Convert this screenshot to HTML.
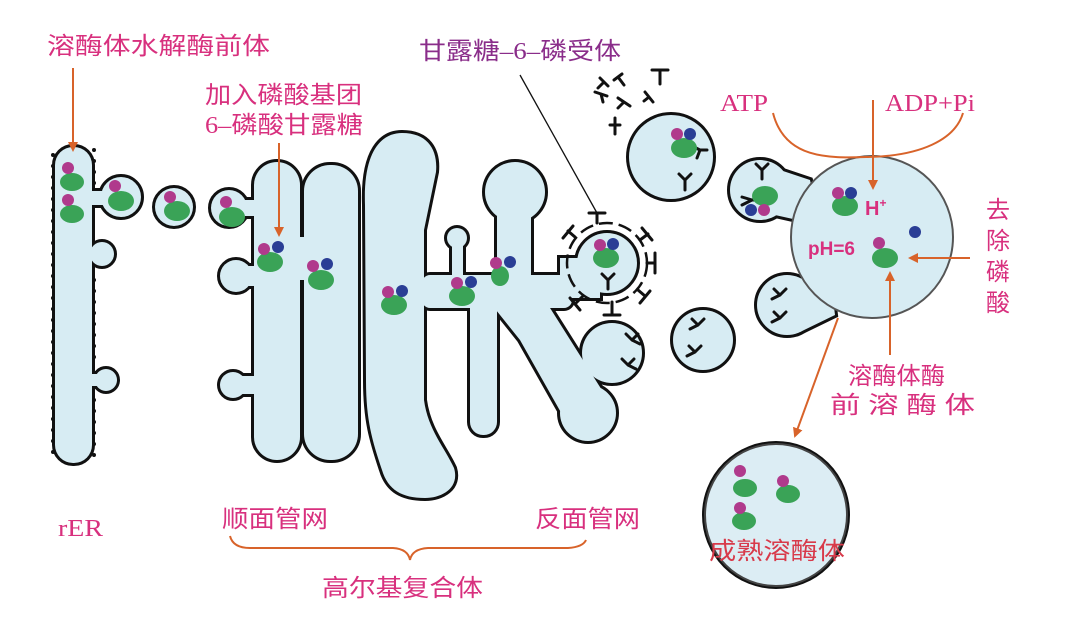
<!DOCTYPE html>
<html><head><meta charset="utf-8"><style>
html,body{margin:0;padding:0;background:#fff}
svg{display:block}
text{font-family:"Liberation Serif","Noto Sans CJK SC",serif}
.p{fill:#d8307e;font-size:24px}
</style></head><body>
<svg width="1077" height="617" viewBox="0 0 1077 617" xmlns="http://www.w3.org/2000/svg">
<defs>
<marker id="ah" markerWidth="10" markerHeight="10" refX="8" refY="5" orient="auto" markerUnits="userSpaceOnUse"><path d="M0,0 L10,5 L0,10 Z" fill="#d8632a"/></marker>
<g id="shapes">
  <rect x="55" y="147" width="37" height="316" rx="18"/>
  <circle cx="102" cy="254" r="12"/><rect x="88" y="248" width="14" height="12"/>
  <circle cx="106" cy="380" r="11"/><rect x="88" y="374" width="16" height="12"/>
  <rect x="88" y="191" width="22" height="14"/><circle cx="121" cy="197" r="20"/>
  <circle cx="174" cy="207" r="19"/>
  <circle cx="229" cy="208" r="18"/><rect x="229" y="200" width="32" height="16"/>
  <rect x="254" y="162" width="46" height="298" rx="23"/>
  <rect x="304" y="165" width="54" height="295" rx="26"/>
  <rect x="260" y="237" width="90" height="43"/>
  <circle cx="236" cy="276" r="16"/><rect x="236" y="266" width="22" height="20"/>
  <circle cx="233" cy="385" r="13"/><rect x="233" y="376" width="25" height="18"/>
  <path d="M365,205 C363,150 382,133 402,133 C428,133 438,150 436,172 L424,230 L424,400 C428,430 445,448 454,468 C460,488 442,498 425,498 C402,498 388,490 382,470 C372,440 366,420 366,380 Z"/>
  <rect x="422" y="275" width="150" height="33" rx="8"/>
  <circle cx="515" cy="192" r="30"/><rect x="497" y="192" width="34" height="95"/>
  <circle cx="457" cy="238" r="10"/><rect x="452" y="238" width="11" height="45"/>
  <circle cx="607" cy="263" r="30"/><rect x="560" y="258" width="40" height="40"/>
  <rect x="470" y="295" width="27" height="140" rx="13"/>
  <polygon points="488,300 545,300 605,395 572,432 520,340"/>
  <circle cx="612" cy="353" r="30"/>
  <circle cx="588" cy="413" r="28"/>
  <circle cx="671" cy="157" r="42"/>
  <circle cx="703" cy="340" r="30"/>
  <circle cx="760" cy="190" r="30"/><polygon points="765,165 810,180 820,225 775,215"/>
  <circle cx="787" cy="305" r="30"/><polygon points="792,280 830,275 835,315 800,332"/>
  <circle cx="776" cy="515" r="71"/>
</g>
</defs>
<g stroke="#111" stroke-width="6" fill="#111"><use href="#shapes"/></g>
<g fill="#d7ecf3"><use href="#shapes"/></g>
<circle cx="872" cy="237" r="81" fill="#d7ecf3" stroke="#555" stroke-width="2"/>
<circle cx="776" cy="515" r="71" fill="#dcedf4" stroke="#444" stroke-width="2"/>
<line x1="53" y1="155" x2="53" y2="460" stroke="#111" stroke-width="4" stroke-dasharray="0 11" stroke-linecap="round"/>
<line x1="94" y1="280" x2="94" y2="365" stroke="#111" stroke-width="4" stroke-dasharray="0 11" stroke-linecap="round"/>
<line x1="94" y1="400" x2="94" y2="460" stroke="#111" stroke-width="4" stroke-dasharray="0 11" stroke-linecap="round"/>
<line x1="94" y1="150" x2="94" y2="185" stroke="#111" stroke-width="4" stroke-dasharray="0 11" stroke-linecap="round"/>
<circle cx="607" cy="263" r="40" fill="none" stroke="#111" stroke-width="2.5" stroke-dasharray="14 6"/>
<g stroke="#111" stroke-width="3" fill="none" stroke-linecap="round">
<path d="M597,223 v-10 M589,213 h16"/>
<path d="M575,237 l-7,-6 M563,238 l10,-12"/>
<path d="M640,240 l8,-6 M642,228 l10,12"/>
<path d="M647,263 h8 M655,253 v20"/>
<path d="M638,290 l7,6 M640,303 l10,-12"/>
<path d="M612,302 v12 M604,315 h16"/>
<path d="M583,296 l-7,7 M570,298 l10,12"/>
<path d="M608,280 l-6,-6 M608,280 l6,-6 M608,280 v9"/>
<path d="M632,340 l-6,-6 M632,340 l6,-6 M632,340 l8,4"/>
<path d="M628,365 l-6,-6 M628,365 l6,-6 M628,365 l8,4"/>
<path d="M700,150 l-8,-4 M700,150 l-3,8 M700,150 h7"/>
<path d="M685,180 l-6,-6 M685,180 l6,-6 M685,180 v10"/>
<path d="M698,325 l-6,-6 M698,325 l6,-6 M698,325 l-8,4"/>
<path d="M695,352 l-6,-6 M695,352 l6,-6 M695,352 l-8,4"/>
<path d="M762,170 l-6,-6 M762,170 l6,-6 M762,170 v9"/>
<path d="M752,200 l-10,-3 M752,200 l-10,5 M752,200 h8"/>
<path d="M780,295 l-6,-6 M780,295 l6,-6 M780,295 l-8,4"/>
<path d="M780,318 l-6,-6 M780,318 l6,-6 M780,318 l-8,4"/>
<path d="M600,78 l8,8 M604,82 l-6,6"/>
<path d="M622,74 l-8,6 M618,77 l6,8"/>
<path d="M652,70 h16 M660,70 v14"/>
<path d="M595,92 l12,4 M601,94 l2,8"/>
<path d="M618,98 l12,8 M624,102 l-6,6"/>
<path d="M645,92 l8,10 M649,97 l-5,4"/>
<path d="M610,125 h10 M615,118 v16"/>
</g>
<g fill="#3aa357">
<ellipse cx="72" cy="182" rx="12" ry="9"/><ellipse cx="72" cy="214" rx="12" ry="9"/>
<ellipse cx="121" cy="201" rx="13" ry="10"/><ellipse cx="177" cy="211" rx="13" ry="10"/>
<ellipse cx="232" cy="217" rx="13" ry="10"/><ellipse cx="270" cy="262" rx="13" ry="10"/>
<ellipse cx="321" cy="280" rx="13" ry="10"/><ellipse cx="394" cy="305" rx="13" ry="10"/>
<ellipse cx="462" cy="296" rx="13" ry="10"/><ellipse cx="500" cy="276" rx="9" ry="10"/>
<ellipse cx="606" cy="258" rx="13" ry="10"/><ellipse cx="684" cy="148" rx="13" ry="10"/>
<ellipse cx="765" cy="196" rx="13" ry="10"/><ellipse cx="845" cy="206" rx="13" ry="10"/>
<ellipse cx="885" cy="258" rx="13" ry="10"/><ellipse cx="745" cy="488" rx="12" ry="9"/>
<ellipse cx="788" cy="494" rx="12" ry="9"/><ellipse cx="744" cy="521" rx="12" ry="9"/>
</g>
<g fill="#b03a8c">
<circle cx="68" cy="168" r="6"/><circle cx="68" cy="200" r="6"/><circle cx="115" cy="186" r="6"/>
<circle cx="170" cy="197" r="6"/><circle cx="226" cy="202" r="6"/><circle cx="264" cy="249" r="6"/>
<circle cx="313" cy="266" r="6"/><circle cx="388" cy="292" r="6"/><circle cx="457" cy="283" r="6"/>
<circle cx="496" cy="263" r="6"/><circle cx="600" cy="245" r="6"/><circle cx="677" cy="134" r="6"/>
<circle cx="764" cy="210" r="6"/><circle cx="838" cy="193" r="6"/><circle cx="879" cy="243" r="6"/>
<circle cx="740" cy="471" r="6"/><circle cx="783" cy="481" r="6"/><circle cx="740" cy="508" r="6"/>
</g>
<g fill="#2a3e95">
<circle cx="278" cy="247" r="6"/><circle cx="327" cy="264" r="6"/><circle cx="402" cy="291" r="6"/>
<circle cx="471" cy="282" r="6"/><circle cx="510" cy="262" r="6"/><circle cx="613" cy="244" r="6"/>
<circle cx="690" cy="134" r="6"/><circle cx="751" cy="210" r="6"/><circle cx="851" cy="193" r="6"/>
<circle cx="915" cy="232" r="6"/>
</g>
<line x1="520" y1="75" x2="597" y2="213" stroke="#111" stroke-width="1.3"/>
<g stroke="#d8632a" stroke-width="2" fill="none">
<line x1="73" y1="68" x2="73" y2="150" marker-end="url(#ah)"/>
<line x1="279" y1="143" x2="279" y2="235" marker-end="url(#ah)"/>
<path d="M773,113 C785,160 830,158 868,157 C920,156 955,140 963,113"/>
<line x1="873" y1="100" x2="873" y2="188" marker-end="url(#ah)"/>
<line x1="970" y1="258" x2="910" y2="258" marker-end="url(#ah)"/>
<line x1="890" y1="355" x2="890" y2="273" marker-end="url(#ah)"/>
<line x1="838" y1="318" x2="795" y2="436" marker-end="url(#ah)"/>
<path d="M230,536 Q233,548 250,548 L393,548 Q408,549 410,560 Q412,549 428,548 L568,548 Q583,547 586,540"/>
</g>
<text class="p" x="47" y="54" textLength="223" lengthAdjust="spacingAndGlyphs">溶酶体水解酶前体</text>
<text class="p" x="205" y="103" textLength="157" lengthAdjust="spacingAndGlyphs">加入磷酸基团</text>
<text class="p" x="205" y="133" textLength="158" lengthAdjust="spacingAndGlyphs">6–磷酸甘露糖</text>
<text x="419" y="59" textLength="202" lengthAdjust="spacingAndGlyphs" style="fill:#8a2d8a;font-size:24px">甘露糖–6–磷受体</text>
<text class="p" x="720" y="111" textLength="48" lengthAdjust="spacingAndGlyphs">ATP</text>
<text class="p" x="885" y="111" textLength="90" lengthAdjust="spacingAndGlyphs">ADP+Pi</text>
<text x="865" y="215" style="fill:#d8307e;font-size:20px;font-weight:bold;font-family:'Liberation Sans',sans-serif">H<tspan dy="-8" font-size="12">+</tspan></text>
<text x="808" y="255" style="fill:#d8307e;font-size:19px;font-weight:bold;font-family:'Liberation Sans',sans-serif">pH=6</text>
<text class="p" x="986" y="218">去</text>
<text class="p" x="986" y="249">除</text>
<text class="p" x="986" y="280">磷</text>
<text class="p" x="986" y="311">酸</text>
<text class="p" x="848" y="384" textLength="97" lengthAdjust="spacingAndGlyphs">溶酶体酶</text>
<text class="p" x="830" y="413" textLength="145" lengthAdjust="spacingAndGlyphs">前 溶 酶 体</text>
<text x="709" y="559" textLength="136" lengthAdjust="spacingAndGlyphs" style="fill:#d83a4a;font-size:24px">成熟溶酶体</text>
<text class="p" x="58" y="536" textLength="45" lengthAdjust="spacingAndGlyphs">rER</text>
<text class="p" x="222" y="527" textLength="106" lengthAdjust="spacingAndGlyphs">顺面管网</text>
<text class="p" x="535" y="527" textLength="105" lengthAdjust="spacingAndGlyphs">反面管网</text>
<text class="p" x="322" y="596" textLength="161" lengthAdjust="spacingAndGlyphs">高尔基复合体</text>
</svg>
</body></html>
